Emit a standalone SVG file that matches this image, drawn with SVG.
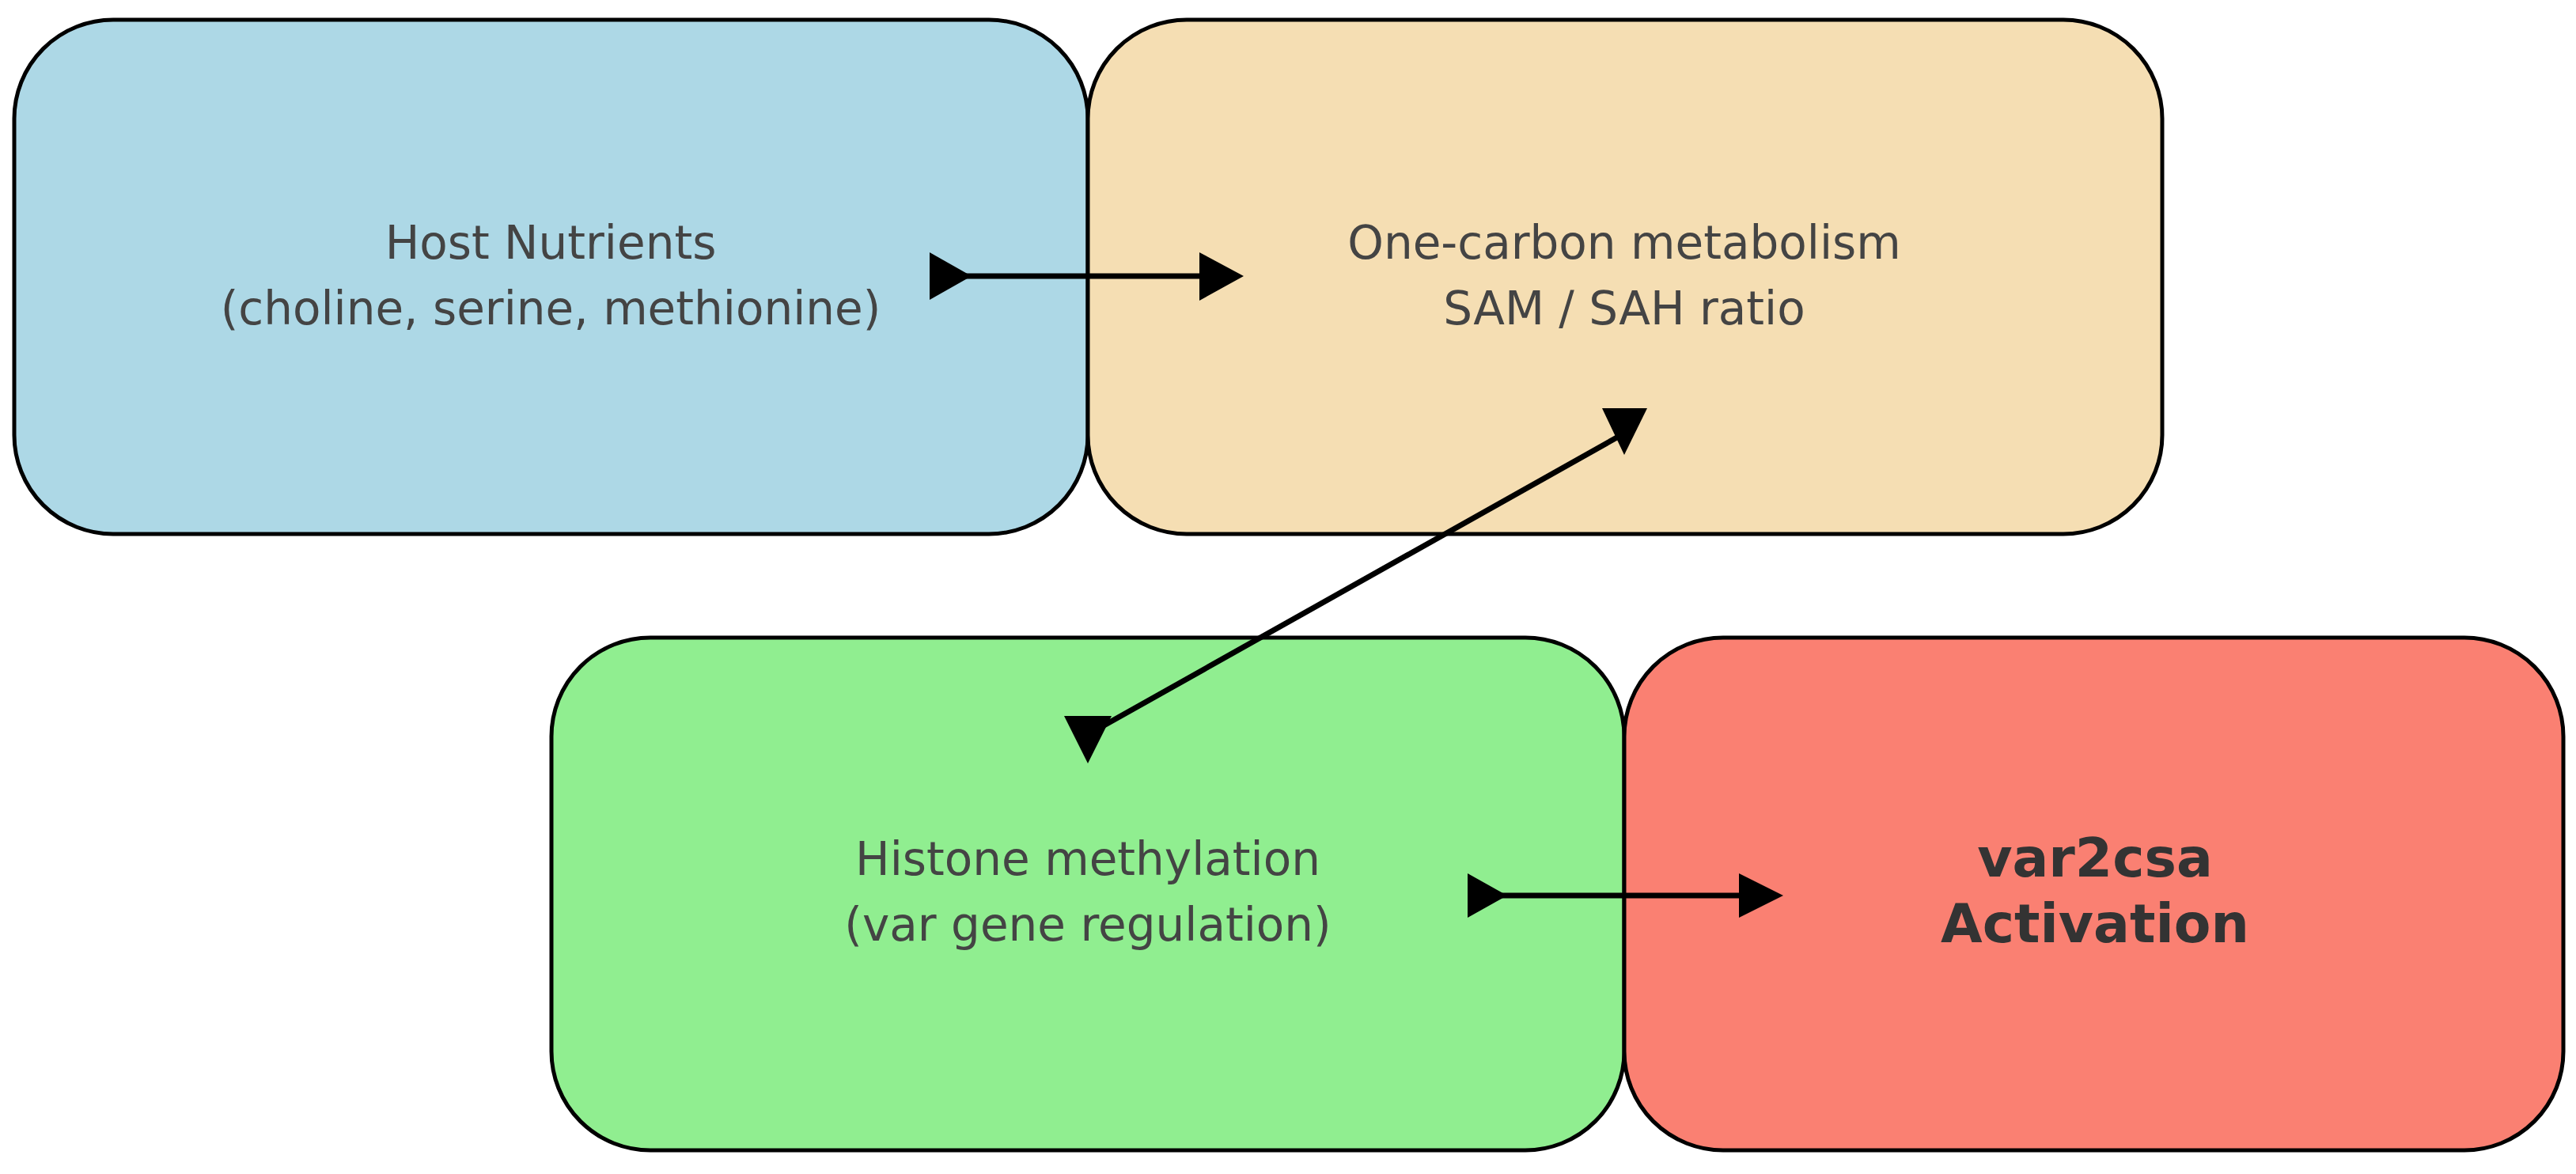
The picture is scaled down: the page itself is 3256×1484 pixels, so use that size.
<svg xmlns="http://www.w3.org/2000/svg" width="3256" height="1484" viewBox="0 0 3256 1484">
<style>
.box{stroke:#000;stroke-width:5}
.t{font-family:"DejaVu Sans",sans-serif;font-size:58px;fill:#444;text-anchor:middle}
.b{font-family:"DejaVu Sans",sans-serif;font-size:68px;font-weight:bold;fill:#333;text-anchor:middle}
.ln{stroke:#000;stroke-width:7;fill:none}
</style>
<rect width="3256" height="1484" fill="#fff"/>
<g id="host"><rect class="box" x="18" y="25" width="1357" height="650" rx="125" fill="#add8e6"/>
<text class="t" x="696" y="327">Host Nutrients</text><text class="t" x="696" y="410">(choline, serine, methionine)</text></g>
<g id="onecarbon"><rect class="box" x="1375" y="25" width="1358" height="650" rx="125" fill="#f5deb3"/>
<text class="t" x="2053" y="327">One-carbon metabolism</text><text class="t" x="2053" y="410">SAM / SAH ratio</text></g>
<g id="histone"><rect class="box" x="697" y="806" width="1356" height="648" rx="125" fill="#90ee90"/>
<text class="t" x="1375" y="1106">Histone methylation</text><text class="t" x="1375" y="1189">(var gene regulation)</text></g>
<g id="var2csa"><rect class="box" x="2053" y="806" width="1187" height="648" rx="125" fill="#fa8072"/>
<text class="b" x="2648" y="1108">var2csa</text><text class="b" x="2648" y="1191">Activation</text></g>
<g id="connectors">
<line class="ln" x1="1220" y1="349" x2="1530" y2="349"/>
<polygon points="1175,319 1228,349 1175,379"/>
<polygon points="1516,319 1572,349 1516,380"/>
<line class="ln" x1="1374" y1="929" x2="2058" y2="545"/>
<polygon points="1345,905 1405,905 1375,965"/>
<polygon points="2025,516 2082,516 2053,575"/>
<line class="ln" x1="1895" y1="1132" x2="2210" y2="1132"/>
<polygon points="1855,1104 1905,1132 1855,1160"/>
<polygon points="2198,1104 2254,1132 2198,1160"/>
</g>
</svg>
